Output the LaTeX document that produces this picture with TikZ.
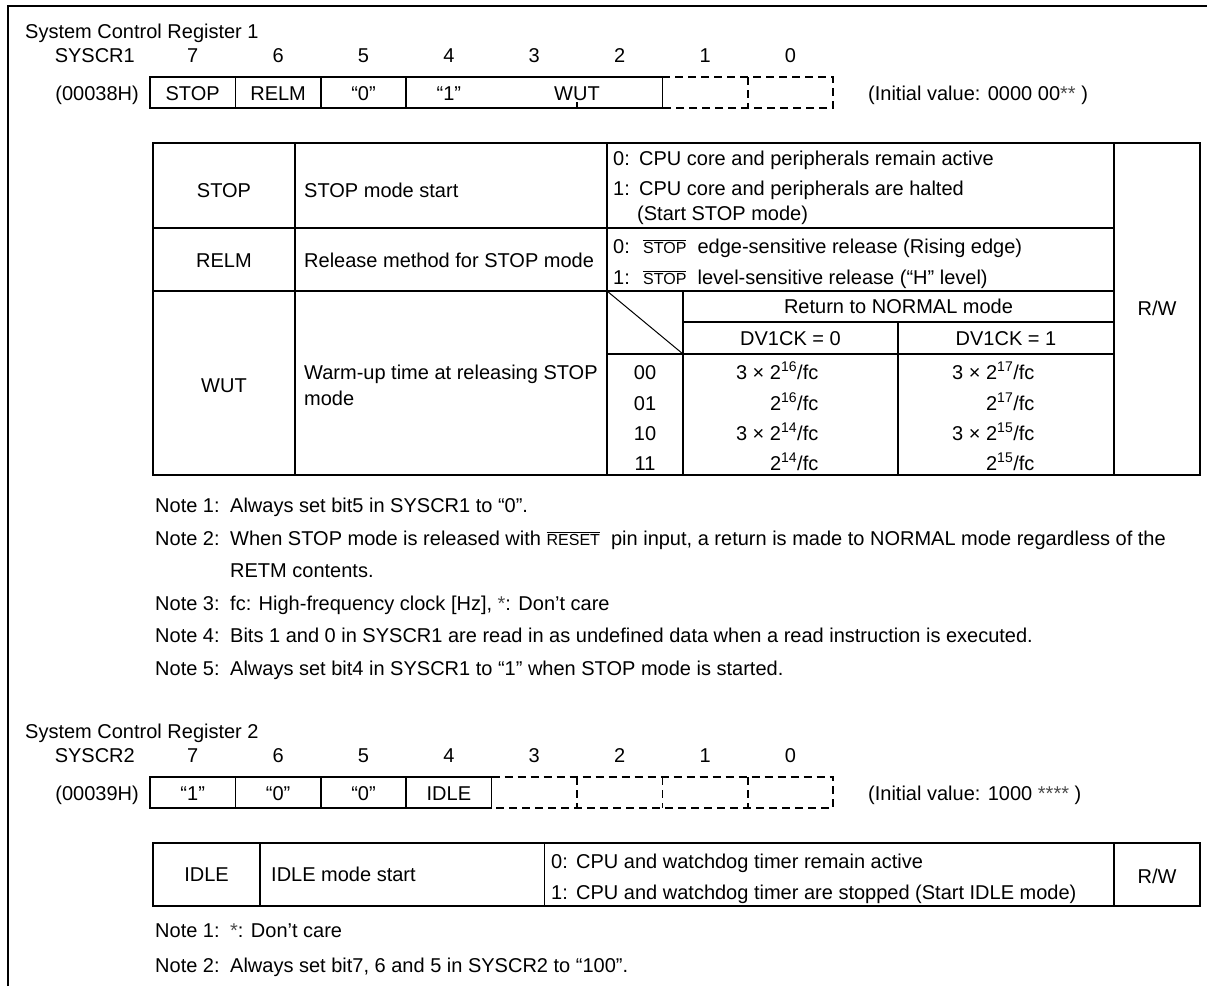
\documentclass[tikz,border=0pt]{standalone}
\usepackage{fontspec}
\setmainfont{Liberation Sans}

\tikzset{
  txt/.style={anchor=base west, inner sep=0pt},
  ctxt/.style={anchor=base, inner sep=0pt},
  rtxt/.style={anchor=base east, inner sep=0pt},
  rule/.style={line width=1.6pt},
  dashrule/.style={line width=1.6pt, dash pattern=on 8pt off 5pt},
}
\newcommand{\sigbar}[1]{\ensuremath{\overline{\mbox{\fontsize{16}{16}\selectfont #1}}}}
\newcommand{\dc}{\textcolor{black!70}{*}}

\begin{document}
\begin{tikzpicture}[x=1pt, y=-1pt, font=\fontsize{20}{24}\selectfont]
\useasboundingbox (0,0) rectangle (1207,986);
\draw[line width=2pt] (8,986) -- (8,6) -- (1207,6);

% register 1
\node[txt] (title1) at (25,38.5) {System Control Register 1};
\node[rtxt] (name1) at (135,62) {SYSCR1};
\node[rtxt] (addr1) at (139,100) {(00038H)};
\foreach \b [count=\i from 0] in {7,6,5,4,3,2,1,0}
  \node[ctxt] (bitA\b) at (192.7+85.4*\i,62) {\b};
\draw[rule] (577,77) -- (150,77) -- (150,108) -- (577,108);
\draw[rule] (577,77) -- (662.4,77) -- (662.4,108) -- (577,108);
\foreach \x in {235.4,320.8,406.2} \draw[rule] (\x,77) -- (\x,108);
\draw[rule] (577,102) -- (577,108);
\draw[dashrule] (662.4,77) -- (833.2,77) -- (833.2,108) -- (662.4,108);
\draw[dashrule] (747.8,77) -- (747.8,108);
\node[ctxt] (stopA) at (192.7,100) {STOP};
\node[ctxt] (relmA) at (278.1,100) {RELM};
\node[ctxt] (b5A) at (363.5,100) {“0”};
\node[ctxt] (b4A) at (448.9,100) {“1”};
\node[ctxt] (wutA) at (577,100) {WUT};
\node[txt] (init1) at (868,100) {(Initial value: 0000 00\dc\dc\ )};

% table 1
\draw[rule] (153,143) rectangle (1200,475);
\draw[rule] (295,143) -- (295,475);
\draw[rule] (607,143) -- (607,475);
\draw[rule] (1114,143) -- (1114,475);
\draw[rule] (153,228) -- (1114,228);
\draw[rule] (153,291) -- (1114,291);
\draw[rule] (683,322) -- (1114,322);
\draw[rule] (607,354) -- (1114,354);
\draw[rule] (683,291) -- (683,475);
\draw[rule] (898,322) -- (898,475);
\draw[line width=1pt] (607,291) -- (683,354);

\node[ctxt] (stopB) at (224,197) {STOP};
\node[txt] (stopD) at (304,197) {STOP mode start};
\node[txt] (stop0) at (613,165.5) {0:};
\node[txt] (stop0t) at (639,165.5) {CPU core and peripherals remain active};
\node[txt] (stop1) at (613,195.5) {1:};
\node[txt] (stop1t) at (639,195.5) {CPU core and peripherals are halted};
\node[txt] (stop1u) at (637,220) {(Start STOP mode)};

\node[ctxt] (relmB) at (224,267) {RELM};
\node[txt] (relmD) at (304,267) {Release method for STOP mode};
\node[txt] (relm0) at (613,253) {0:};
\node[txt] (relm0t) at (643,253) {\sigbar{STOP}\ \ edge-sensitive release (Rising edge)};
\node[txt] (relm1) at (613,284) {1:};
\node[txt] (relm1t) at (643,284) {\sigbar{STOP}\ \ level-sensitive release (“H” level)};

\node[ctxt] (wutB) at (224,392) {WUT};
\node[txt] (wutD) at (304,379) {Warm-up time at releasing STOP};
\node[txt] (wutE) at (304,405) {mode};
\node[ctxt] (ret) at (898.5,313.5) {Return to NORMAL mode};
\node[ctxt] (dv0) at (790.5,345) {DV1CK = 0};
\node[ctxt] (dv1) at (1006,345) {DV1CK = 1};
\node[ctxt] (c00) at (645,379) {00};
\node[ctxt] (c01) at (645,410) {01};
\node[ctxt] (c10) at (645,440) {10};
\node[ctxt] (c11) at (645,470) {11};
\node[rtxt] (t00a) at (818.5,379) {3 × 2\textsuperscript{16}/fc};
\node[rtxt] (t01a) at (818.5,410) {2\textsuperscript{16}/fc};
\node[rtxt] (t10a) at (818.5,440) {3 × 2\textsuperscript{14}/fc};
\node[rtxt] (t11a) at (818.5,470) {2\textsuperscript{14}/fc};
\node[rtxt] (t00b) at (1034.6,379) {3 × 2\textsuperscript{17}/fc};
\node[rtxt] (t01b) at (1034.6,410) {2\textsuperscript{17}/fc};
\node[rtxt] (t10b) at (1034.6,440) {3 × 2\textsuperscript{15}/fc};
\node[rtxt] (t11b) at (1034.6,470) {2\textsuperscript{15}/fc};
\node[ctxt] (rw1) at (1157,315) {R/W};

% notes 1
\node[txt] (n1) at (155,512.5) {Note 1:};
\node[txt] (n1t) at (230,512.5) {Always set bit5 in SYSCR1 to “0”.};
\node[txt] (n2) at (155,545) {Note 2:};
\node[txt] (n2t) at (230,545) {When STOP mode is released with \sigbar{RESET}\ \ pin input, a return is made to NORMAL mode regardless of the};
\node[txt] (n2u) at (230,577.5) {RETM contents.};
\node[txt] (n3) at (155,610) {Note 3:};
\node[txt] (n3t) at (230,610) {fc: High-frequency clock [Hz], \dc: Don’t care};
\node[txt] (n4) at (155,642.5) {Note 4:};
\node[txt] (n4t) at (230,642.5) {Bits 1 and 0 in SYSCR1 are read in as undefined data when a read instruction is executed.};
\node[txt] (n5) at (155,675) {Note 5:};
\node[txt] (n5t) at (230,675) {Always set bit4 in SYSCR1 to “1” when STOP mode is started.};

% register 2
\node[txt] (title2) at (25,738) {System Control Register 2};
\node[rtxt] (name2) at (135,762) {SYSCR2};
\node[rtxt] (addr2) at (139,800) {(00039H)};
\foreach \b [count=\i from 0] in {7,6,5,4,3,2,1,0}
  \node[ctxt] (bitB\b) at (192.7+85.4*\i,762) {\b};
\draw[rule] (491.6,777) -- (150,777) -- (150,808) -- (491.6,808) -- cycle;
\foreach \x in {235.4,320.8,406.2} \draw[rule] (\x,777) -- (\x,808);
\draw[dashrule] (491.6,777) -- (833.2,777) -- (833.2,808) -- (491.6,808);
\foreach \x in {577,662.4,747.8} \draw[dashrule] (\x,777) -- (\x,808);
\node[ctxt] (b7B) at (192.7,800) {“1”};
\node[ctxt] (b6B) at (278.1,800) {“0”};
\node[ctxt] (b5B) at (363.5,800) {“0”};
\node[ctxt] (idleA) at (448.9,800) {IDLE};
\node[txt] (init2) at (868,800) {(Initial value: 1000 \dc\dc\dc\dc\ )};

% table 2
\draw[rule] (153,843) rectangle (1200,906);
\foreach \x in {260,544.5,1114} \draw[rule] (\x,843) -- (\x,906);
\node[ctxt] (idleB) at (206.5,881.5) {IDLE};
\node[txt] (idleD) at (271,881.5) {IDLE mode start};
\node[txt] (idle0) at (551,868) {0:};
\node[txt] (idle0t) at (576,868) {CPU and watchdog timer remain active};
\node[txt] (idle1) at (551,899) {1:};
\node[txt] (idle1t) at (576,899) {CPU and watchdog timer are stopped (Start IDLE mode)};
\node[ctxt] (rw2) at (1157,883) {R/W};

% notes 2
\node[txt] (m1) at (155,937) {Note 1:};
\node[txt] (m1t) at (230,937) {\dc: Don’t care};
\node[txt] (m2) at (155,972) {Note 2:};
\node[txt] (m2t) at (230,972) {Always set bit7, 6 and 5 in SYSCR2 to “100”.};
\end{tikzpicture}
\end{document}
